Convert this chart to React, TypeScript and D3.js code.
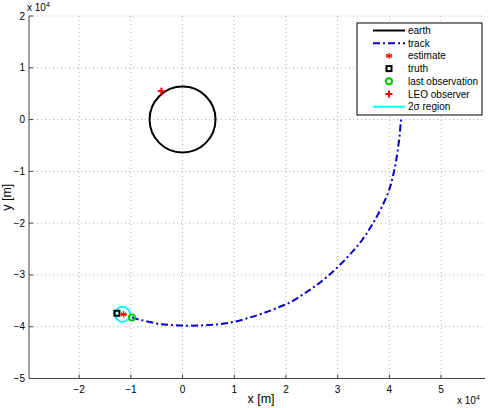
import React from 'react';
import * as d3 from 'd3';

// values in units of 1e4 m
const xTicks = [-2, -1, 0, 1, 2, 3, 4, 5];
const yTicks = [-5, -4, -3, -2, -1, 0, 1, 2];

const trackX = [-0.98, -0.85, -0.72, -0.43, -0.18, 0.15, 0.44, 0.73, 1.02, 1.31, 1.56, 1.82, 2.08, 2.34, 2.56, 2.79, 3.02, 3.27, 3.47, 3.63, 3.77, 3.9, 4.0, 4.07, 4.12, 4.16, 4.2, 4.22, 4.23];
const trackY = [-3.82, -3.86, -3.89, -3.95, -3.97, -3.98, -3.97, -3.95, -3.9, -3.82, -3.74, -3.64, -3.53, -3.37, -3.22, -3.04, -2.83, -2.57, -2.33, -2.09, -1.85, -1.59, -1.35, -1.09, -0.86, -0.6, -0.3, -0.05, 0.04];

const earthCenter = [0, 0];
const earthRadius = 0.6378;
const estimate = [-1.14, -3.76];
const truth = [-1.27, -3.74];
const lastObs = [-0.98, -3.82];
const leoObserver = [-0.41, 0.55];
const sigmaCenter = [-1.16, -3.76];
const sigmaRadius = 0.145;

const legendLabels = ['earth', 'track', 'estimate', 'truth', 'last observation', 'LEO observer'];

const W = 490;
const H = 408;
const left = 29, right = 485, top = 16, bottom = 378.5;
const FONT = '"Liberation Sans", Arial, Helvetica, sans-serif';

export default function App() {
  const x = d3.scaleLinear().domain([-2.97, 5.85]).range([left, right]);
  const y = d3.scaleLinear().domain([-5, 2]).range([bottom, top]);
  const pts: [number, number][] = trackX.map((v, i) => [v, trackY[i]]);
  const line = d3.line<[number, number]>().x(d => x(d[0])).y(d => y(d[1])).curve(d3.curveCatmullRom);
  const kx = (r: number) => x(r) - x(0);

  const star = (cx: number, cy: number, s: number, color: string) => (
    <g stroke={color} strokeWidth={1.2}>
      {[0, 60, 120].map(a => {
        const rad = ((a + 90) * Math.PI) / 180;
        return <line key={a} x1={cx - s * Math.cos(rad)} y1={cy - s * Math.sin(rad)} x2={cx + s * Math.cos(rad)} y2={cy + s * Math.sin(rad)} />;
      })}
      <line x1={cx - s} y1={cy} x2={cx + s} y2={cy} />
    </g>
  );
  const plus = (cx: number, cy: number, s: number, color: string) => (
    <g stroke={color} strokeWidth={2}>
      <line x1={cx - s} y1={cy} x2={cx + s} y2={cy} />
      <line x1={cx} y1={cy - s} x2={cx} y2={cy + s} />
    </g>
  );
  const square = (cx: number, cy: number, s: number) => (
    <rect x={cx - s} y={cy - s} width={2 * s} height={2 * s} fill="none" stroke="#000" strokeWidth={2} />
  );
  const ring = (cx: number, cy: number, r: number) => (
    <circle cx={cx} cy={cy} r={r} fill="none" stroke="#00cc00" strokeWidth={2} />
  );

  const lgX = 357, lgY = 23, lgW = 125, lgH = 92, rowH = 12.7;
  const rowY = (i: number) => lgY + 7.5 + i * rowH;

  return (
    <svg width={W} height={H} style={{ position: 'absolute', left: 0, top: 0, background: '#fff' }} fontFamily={FONT}>
      {/* grid */}
      <g stroke="#999" strokeWidth={0.8} strokeDasharray="1,3">
        {xTicks.map(t => <line key={'gx' + t} x1={x(t)} x2={x(t)} y1={top} y2={bottom} />)}
        {yTicks.map(t => <line key={'gy' + t} x1={left} x2={right} y1={y(t)} y2={y(t)} />)}
      </g>
      {/* axes */}
      <g stroke="#444" strokeWidth={1}>
        <line x1={left} x2={left} y1={top} y2={bottom} />
        <line x1={left} x2={right} y1={bottom} y2={bottom} />
        {xTicks.map(t => <line key={'tx' + t} x1={x(t)} x2={x(t)} y1={bottom} y2={bottom - 4} />)}
        {yTicks.map(t => <line key={'ty' + t} x1={left} x2={left + 4} y1={y(t)} y2={y(t)} />)}
      </g>
      <g fontSize={10} fill="#000">
        {xTicks.map(t => (
          <text key={'lx' + t} x={x(t)} y={bottom + 14} textAnchor="middle">{t < 0 ? '\u2212' + Math.abs(t) : t}</text>
        ))}
        {yTicks.map(t => (
          <text key={'ly' + t} x={left - 4} y={y(t) + 3.5} textAnchor="end">{t < 0 ? '\u2212' + Math.abs(t) : t}</text>
        ))}
        <text x={left - 2} y={11}>x 10<tspan fontSize={7} dy={-4}>4</tspan></text>
        <text x={457} y={404}>x 10<tspan fontSize={7} dy={-4}>4</tspan></text>
      </g>
      <text x={261} y={403} fontSize={12.5} textAnchor="middle">x [m]</text>
      <text transform={`translate(11,${(top + bottom) / 2}) rotate(-90)`} fontSize={12.5} textAnchor="middle">y [m]</text>

      {/* earth */}
      <circle cx={x(earthCenter[0])} cy={y(earthCenter[1])} r={kx(earthRadius)} fill="none" stroke="#000" strokeWidth={2} />
      {/* track */}
      <path d={line(pts) || ''} fill="none" stroke="#0000cc" strokeWidth={2} strokeDasharray="7,3,2,3" />
      {/* 2 sigma region */}
      <circle cx={x(sigmaCenter[0])} cy={y(sigmaCenter[1])} r={kx(sigmaRadius)} fill="none" stroke="#00ffff" strokeWidth={2} />
      {square(x(truth[0]), y(truth[1]), 2.5)}
      {star(x(estimate[0]), y(estimate[1]), 3.2, '#ff0000')}
      {ring(x(lastObs[0]), y(lastObs[1]), 3)}
      {plus(x(leoObserver[0]), y(leoObserver[1]), 3.5, '#ff0000')}

      {/* legend */}
      <rect x={lgX} y={lgY} width={lgW} height={lgH} fill="#fff" stroke="#000" strokeWidth={1} />
      <g fontSize={10}>
        {legendLabels.map((l, i) => <text key={l} x={408} y={rowY(i) + 3.5}>{l}</text>)}
        <text x={408} y={rowY(6) + 3.5}>2σ region</text>
      </g>
      <line x1={373} x2={405} y1={rowY(0)} y2={rowY(0)} stroke="#000" strokeWidth={2} />
      <line x1={373} x2={405} y1={rowY(1)} y2={rowY(1)} stroke="#0000cc" strokeWidth={2} strokeDasharray="7,3,2,3" />
      {star(389, rowY(2), 3.2, '#ff0000')}
      {square(389, rowY(3), 2.5)}
      {ring(389, rowY(4), 3)}
      {plus(389, rowY(5), 3.5, '#ff0000')}
      <line x1={373} x2={405} y1={rowY(6)} y2={rowY(6)} stroke="#00ffff" strokeWidth={2} />
    </svg>
  );
}
